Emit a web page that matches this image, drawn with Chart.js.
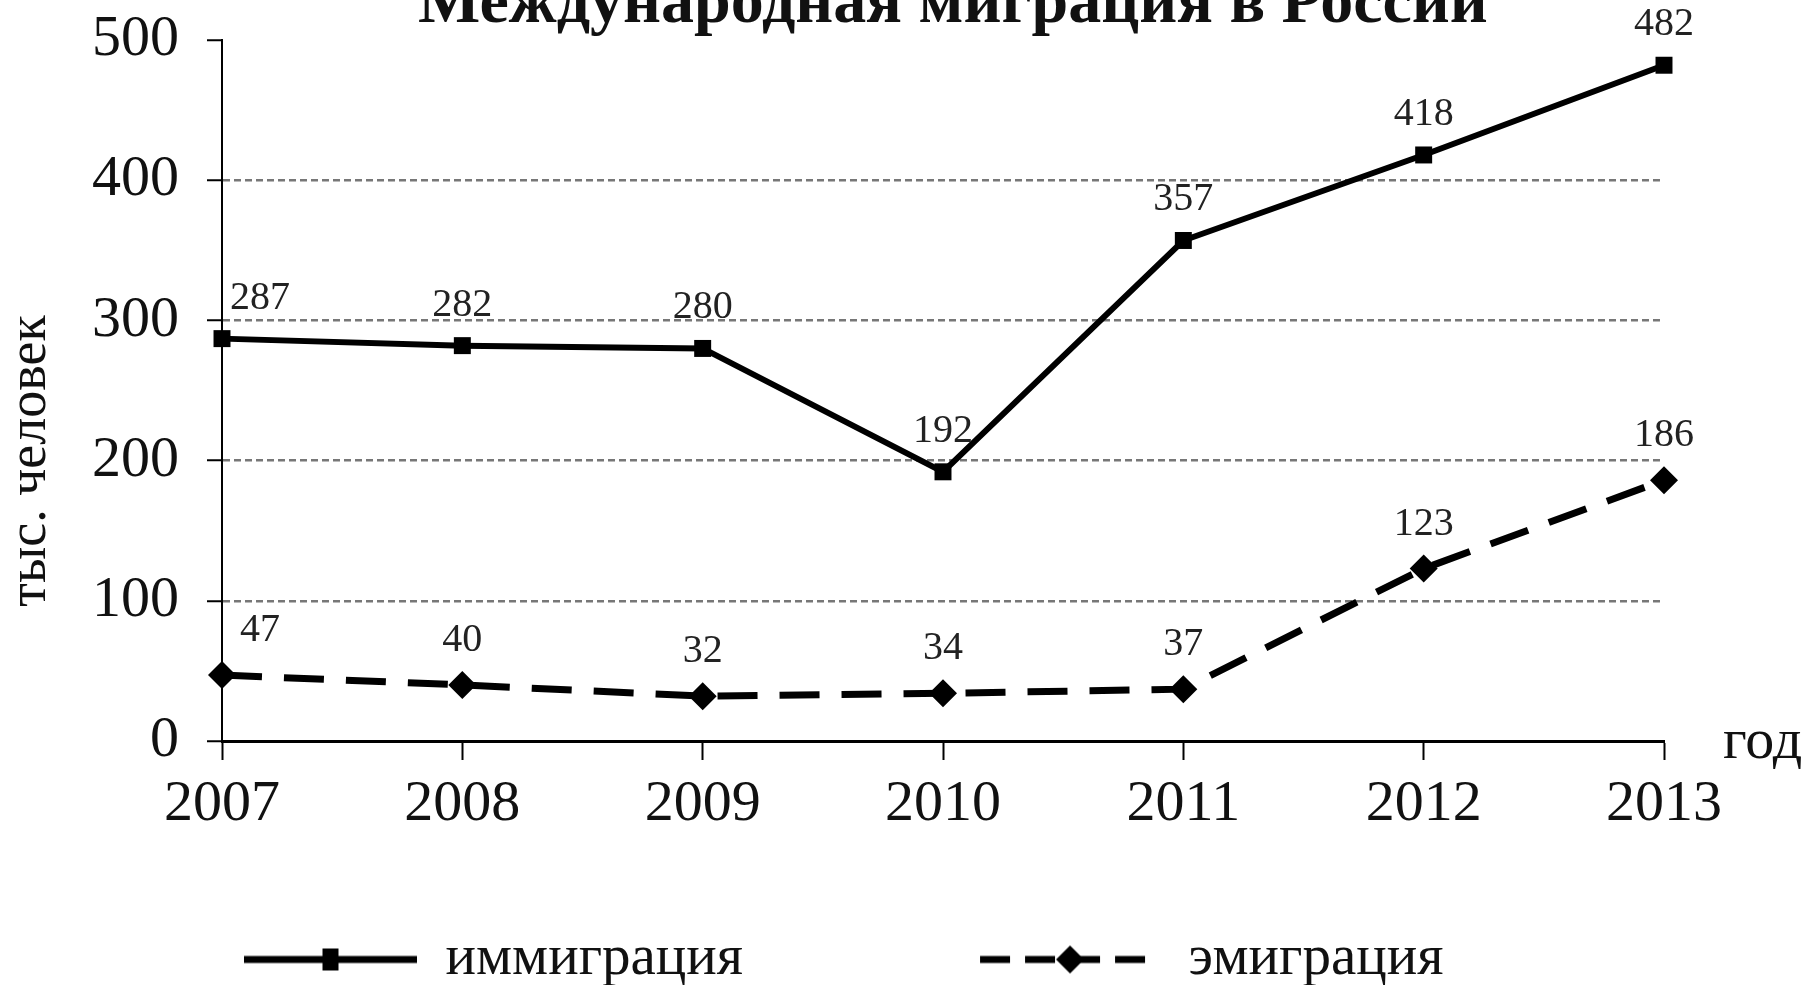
<!doctype html>
<html lang="ru">

<head>
    <meta charset="utf-8">
    <title>Международная миграция в России</title>
    <script src="https://cdn.jsdelivr.net/npm/chart.js@4.4.0/dist/chart.umd.min.js"></script>
    <style>
        html, body { margin: 0; padding: 0; background: #fff; }
        #wrap { width: 1812px; height: 985px; position: relative; }
    </style>
</head>

<body>
    <div id="wrap"><canvas id="chart"></canvas></div>

    <script>
        // values, thousand people
        const years = ['2007', '2008', '2009', '2010', '2011', '2012', '2013'];
        const immigration = [287, 282, 280, 192, 357, 418, 482];
        const emigration = [47, 40, 32, 34, 37, 123, 186];
        const yMin = 0, yMax = 500, yStep = 100;

        const titleText = 'Международная миграция в России';
        const yTitle = 'тыс. человек';
        const xTitle = 'год';
        const seriesNames = ['иммиграция', 'эмиграция'];

        const serif = "'Liberation Serif', 'DejaVu Serif', serif";
        const ink = '#111';

        // legend swatch: line sample with marker, drawn into a small canvas
        function swatch(boxW, sampleW, dashed) {
            const c = document.createElement('canvas');
            c.width = boxW;
            c.height = 32;
            const g = c.getContext('2d');
            const x0 = boxW - sampleW, mid = 16;
            g.strokeStyle = '#000';
            g.fillStyle = '#000';
            g.lineWidth = 7;
            g.setLineDash(dashed ? [30, 15] : []);
            g.beginPath();
            g.moveTo(x0, mid);
            g.lineTo(boxW, mid);
            g.stroke();
            const cx = x0 + sampleW / 2;
            g.beginPath();
            if (dashed) {
                g.moveTo(cx - 14, mid); g.lineTo(cx, mid - 14);
                g.lineTo(cx + 14, mid); g.lineTo(cx, mid + 14);
                g.closePath();
            } else {
                g.rect(cx - 8, mid - 11, 16, 22);
            }
            g.fill();
            return c;
        }

        const legendBox = 339;
        const swatches = [swatch(legendBox, 173, false), swatch(legendBox, 180, true)];

        const textPlugin = {
            id: 'texts',
            afterDatasetsDraw(chart) {
                const ctx = chart.ctx;
                const x = chart.scales.x, y = chart.scales.y;
                ctx.save();
                ctx.fillStyle = '#222';
                ctx.textAlign = 'center';
                ctx.textBaseline = 'alphabetic';
                ctx.font = '40px ' + serif;
                chart.data.datasets.forEach((ds, di) => {
                    chart.getDatasetMeta(di).data.forEach((pt, i) => {
                        const dx = i === 0 ? 38 : 0;
                        ctx.fillText(String(ds.data[i]), pt.x + dx, pt.y - ds.labelGap);
                    });
                });

                // chart title, cut by the top edge as in the scan
                ctx.fillStyle = ink;
                ctx.font = 'bold 66px ' + serif;
                ctx.fillText(titleText, 953, 22);

                // x axis name at the end of the axis
                ctx.textAlign = 'left';
                ctx.font = '58px ' + serif;
                ctx.fillText(xTitle, x.right + 59, y.getPixelForValue(0) + 17);

                // y axis name, rotated
                ctx.save();
                ctx.translate(45, 461);
                ctx.rotate(-Math.PI / 2);
                ctx.textAlign = 'center';
                ctx.font = '54px ' + serif;
                ctx.fillText(yTitle, 0, 0);
                ctx.restore();
                ctx.restore();
            }
        };

        new Chart(document.getElementById('chart'), {
            type: 'line',
            data: {
                labels: years,
                datasets: [
                    {
                        label: seriesNames[0],
                        data: immigration,
                        borderColor: '#000',
                        backgroundColor: '#000',
                        borderWidth: 6,
                        pointStyle: 'rect',
                        pointRadius: 12,
                        pointBorderWidth: 0,
                        tension: 0,
                        labelGap: 30,
                    },
                    {
                        label: seriesNames[1],
                        data: emigration,
                        borderColor: '#000',
                        backgroundColor: '#000',
                        borderWidth: 7,
                        borderDash: [40, 22],
                        pointStyle: 'rectRot',
                        pointRadius: 14,
                        pointBorderWidth: 0,
                        tension: 0,
                        labelGap: 34,
                    }
                ]
            },
            options: {
                responsive: true,
                maintainAspectRatio: false,
                animation: false,
                devicePixelRatio: 1,
                layout: {
                    padding: { top: 40, right: 148, bottom: -13, left: 0 }
                },
                plugins: {
                    title: { display: false },
                    tooltip: { enabled: false },
                    legend: {
                        position: 'bottom',
                        align: 'start',
                        labels: {
                            usePointStyle: true,
                            pointStyleWidth: legendBox,
                            padding: 78,
                            color: ink,
                            font: { family: serif, size: 57 },
                            generateLabels: (chart) => chart.data.datasets.map((ds, i) => ({
                                text: ds.label,
                                pointStyle: swatches[i],
                                fillStyle: '#000',
                                strokeStyle: '#000',
                                lineWidth: 0,
                                fontColor: ink,
                                hidden: false,
                                datasetIndex: i,
                            })),
                        }
                    }
                },
                scales: {
                    x: {
                        type: 'category',
                        offset: false,
                        afterFit: (s) => { s.height = 112; },
                        border: { display: true, color: '#000', width: 3 },
                        grid: {
                            drawOnChartArea: false,
                            drawTicks: true,
                            tickLength: 19,
                            tickColor: '#000',
                            tickWidth: 2,
                        },
                        ticks: {
                            color: ink,
                            padding: 10,
                            maxRotation: 0,
                            font: { family: serif, size: 58 },
                        }
                    },
                    y: {
                        min: yMin,
                        max: yMax,
                        afterFit: (s) => {
                            s.width = 222;
                            s.paddingTop = 0;
                            s.paddingBottom = 0;
                        },
                        border: { display: true, color: '#000', width: 2, dash: [7, 4] },
                        grid: {
                            drawTicks: true,
                            tickLength: 15,
                            tickWidth: 2,
                            tickColor: '#000',
                            tickBorderDash: [],
                            lineWidth: 2.5,
                            color: (c) => (c.tick && (c.tick.value === yMin || c.tick.value === yMax)) ? 'rgba(0,0,0,0)' : '#777',
                        },
                        ticks: {
                            stepSize: yStep,
                            color: ink,
                            padding: 28,
                            font: { family: serif, size: 58 },
                        }
                    }
                }
            },
            plugins: [textPlugin]
        });
    </script>
</body>

</html>
